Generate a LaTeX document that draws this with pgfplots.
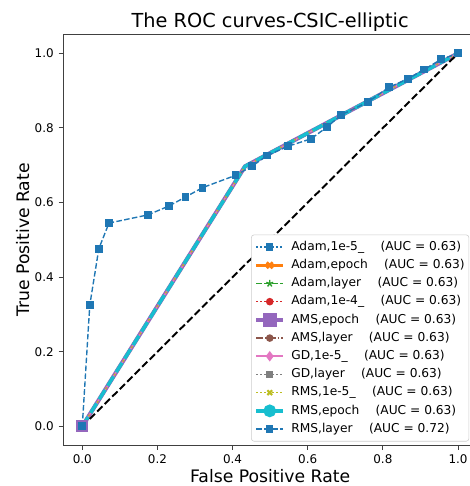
\documentclass[border=0pt]{standalone}
\usepackage{fontspec}
\setmainfont{DejaVu Sans}
\usepackage{pgfplots}
\pgfplotsset{compat=1.18}
\usetikzlibrary{plotmarks}
\definecolor{tblue}{HTML}{1F77B4}
\definecolor{torange}{HTML}{FF7F0E}
\definecolor{tgreen}{HTML}{2CA02C}
\definecolor{tred}{HTML}{D62728}
\definecolor{tpurple}{HTML}{9467BD}
\definecolor{tbrown}{HTML}{8C564B}
\definecolor{tpink}{HTML}{E377C2}
\definecolor{tgray}{HTML}{7F7F7F}
\definecolor{tolive}{HTML}{BCBD22}
\definecolor{tcyan}{HTML}{17BECF}
\pgfplotstableread{
x y
0 0
0.433 0.697
1 1
}\base
\pgfplotstableread{
x y
0 0
0.020 0.325
0.044 0.476
0.071 0.545
0.175 0.567
0.231 0.591
0.275 0.615
0.320 0.640
0.408 0.673
0.451 0.697
0.492 0.726
0.548 0.751
0.609 0.771
0.652 0.803
0.689 0.835
0.761 0.870
0.816 0.909
0.867 0.932
0.910 0.957
0.955 0.984
1 1
}\rmslayer
\tikzset{
  sdot/.style={dash pattern=on 1.1pt off 1.8pt},
  sdash/.style={dash pattern=on 4pt off 1.7pt},
  tdash/.style={dash pattern=on 8pt off 3.5pt},
  sdashdot/.style={dash pattern=on 5pt off 1.5pt on 1pt off 1.5pt},
}
\newcommand{\gap}{\hspace{11.8pt}}
\begin{document}
\begin{tikzpicture}
\useasboundingbox (-45.7pt,-29.5pt) rectangle (292.0pt,320.4pt);
\begin{axis}[
  at={(0,0)}, anchor=south west,
  scale only axis, width=297.6pt, height=295.4pt,
  xmin=-0.05, xmax=1.05, ymin=-0.05, ymax=1.05,
  xtick={0,0.2,0.4,0.6,0.8,1.0}, ytick={0,0.2,0.4,0.6,0.8,1.0},
  tick pos=left, tick align=outside,
  major tick length=3.5pt,
  every tick/.style={black!75, line width=0.7pt},
  axis line style={black!75, line width=0.7pt},
  ticklabel style={font=\fontsize{8.6pt}{10pt}\selectfont, /pgf/number format/assume math mode=true, /pgf/number format/fixed, /pgf/number format/fixed zerofill, /pgf/number format/precision=1},
  every axis title shift=0pt,
  title={The ROC curves-CSIC-elliptic},
  title style={font=\fontsize{13.9pt}{16pt}\selectfont, at={(axis description cs:0.5,1.0186)}, anchor=base},
  xlabel={False Positive Rate},
  ylabel={True Positive Rate},
  xlabel style={font=\fontsize{12.4pt}{14pt}\selectfont, at={(axis description cs:0.5,-0.0905)}, anchor=base},
  ylabel style={font=\fontsize{12.4pt}{14pt}\selectfont, at={(axis description cs:-0.0833,0.5)}, anchor=base},
  legend cell align=left,
  legend image code/.code={\draw[mark repeat=2,mark phase=2] plot coordinates {(0pt,0pt)(9.75pt,0pt)(19.5pt,0pt)}; \path (22.8pt,0pt);},
  legend style={at={(axis description cs:1,0)}, anchor=south east, xshift=-5.5pt, yshift=2.5pt,
    font=\fontsize{8.8pt}{10pt}\selectfont, draw=black!20, rounded corners=2pt, fill=white,
    row sep=2.5pt, inner xsep=2pt, inner ysep=3.5pt,
    nodes={inner sep=1pt, text height=6.6pt, text depth=2pt}},
]
\addlegendimage{tblue, line width=1pt, sdot, mark=square*, mark size=2.2pt, mark options={solid}}
\addlegendentry{Adam,1e-5\_\gap(AUC = 0.63)}
\addlegendimage{torange, line width=2.5pt, tdash, mark=x, mark size=3pt, mark options={solid, line width=2pt}}
\addlegendentry{Adam,epoch\gap(AUC = 0.63)}
\addlegendimage{tgreen, line width=1pt, sdash, mark=star, mark size=2.6pt, mark options={solid, line width=1pt}}
\addlegendentry{Adam,layer\gap(AUC = 0.63)}
\addlegendimage{tred, line width=1pt, sdot, mark=*, mark size=2.2pt, mark options={solid}}
\addlegendentry{Adam,1e-4\_\gap(AUC = 0.63)}
\addlegendimage{tpurple, line width=3pt, mark=square*, mark size=3.5pt, mark options={solid}}
\addlegendentry{AMS,epoch\gap(AUC = 0.63)}
\addlegendimage{tbrown, line width=1pt, sdashdot, mark=*, mark size=2.2pt, mark options={solid}}
\addlegendentry{AMS,layer\gap(AUC = 0.63)}
\addlegendimage{tpink, line width=1.2pt, mark=diamond*, mark size=2.8pt, mark options={solid}}
\addlegendentry{GD,1e-5\_\gap(AUC = 0.63)}
\addlegendimage{tgray, line width=1pt, sdot, mark=square*, mark size=2pt, mark options={solid}}
\addlegendentry{GD,layer\gap(AUC = 0.63)}
\addlegendimage{tolive, line width=1pt, sdot, mark=x, mark size=2.4pt, mark options={solid, line width=1.6pt}}
\addlegendentry{RMS,1e-5\_\gap(AUC = 0.63)}
\addlegendimage{tcyan, line width=2.5pt, tdash, mark=*, mark size=3.3pt, mark options={solid}}
\addlegendentry{RMS,epoch\gap(AUC = 0.63)}
\addlegendimage{tblue, line width=1pt, sdash, mark=square*, mark size=2.2pt, mark options={solid}}
\addlegendentry{RMS,layer\gap(AUC = 0.72)}
\addplot[forget plot, tblue, line width=1pt, sdot] table[x=x,y=y] {\base};
\addplot[forget plot, torange, line width=2.5pt, tdash] table[x=x,y=y] {\base};
\addplot[forget plot, tgreen, line width=1pt, sdash] table[x=x,y=y] {\base};
\addplot[forget plot, tred, line width=1pt, sdot] table[x=x,y=y] {\base};
\addplot[forget plot, tpurple, line width=3pt, mark=square*, mark size=2.8pt, mark indices={1}] table[x=x,y=y] {\base};
\addplot[forget plot, tbrown, line width=1pt, sdashdot] table[x=x,y=y] {\base};
\addplot[forget plot, tpink, line width=1.2pt] table[x=x,y=y] {\base};
\addplot[forget plot, tgray, line width=1pt, sdot] table[x=x,y=y] {\base};
\addplot[forget plot, tolive, line width=1pt, sdot] table[x=x,y=y] {\base};
\addplot[forget plot, tcyan, line width=2.5pt, tdash] table[x=x,y=y] {\base};
\addplot[forget plot, tblue, line width=1pt, sdash, mark=square*, mark size=2.3pt, mark options={solid}] table[x=x,y=y] {\rmslayer};
\addplot[forget plot, black, line width=1.4pt, dash pattern=on 5.3pt off 2.3pt] coordinates {(0,0) (1,1)};
\end{axis}
\end{tikzpicture}
\end{document}
